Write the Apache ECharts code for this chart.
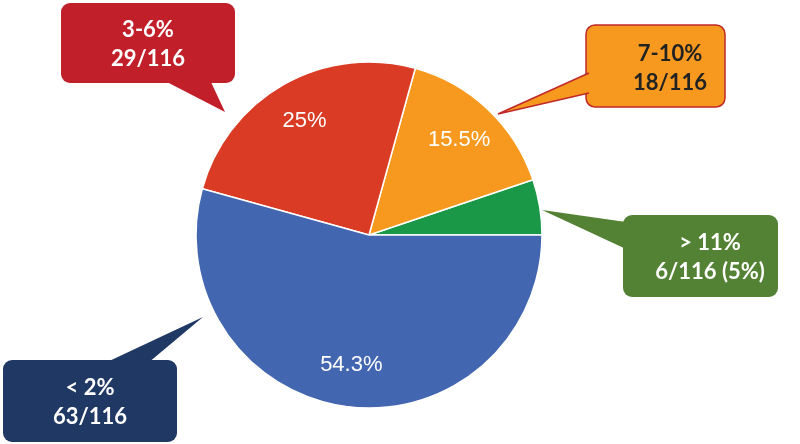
<!DOCTYPE html>
<html><head><meta charset="utf-8">
<script src="https://cdn.jsdelivr.net/npm/echarts@6/dist/echarts.min.js"></script>
<style>html,body{margin:0;padding:0;background:#fff}#c{width:800px;height:444px}</style>
</head><body><div id="c"></div>
<script>
const categories = ['> 11%', '7-10%', '3-6%', '< 2%'];
const counts = [6, 18, 29, 63];
const pctLabels = ['', '15.5%', '25%', '54.3%'];
const sliceColors = ['#1A9848', '#F7991E', '#DA3B25', '#4366B1'];
const total = counts.reduce((a, b) => a + b, 0);

const chart = echarts.init(document.getElementById('c'));
const cx = 369, cy = 235, R = 173;

const pieData = categories.map((c, i) => ({ name: c, value: counts[i], itemStyle: { color: sliceColors[i] } }));
const labelData = categories.map((c, i) => ({ name: c, value: counts[i], label: { show: pctLabels[i] !== '' } }));

function callout(o) {
  const els = [];
  els.push({ type: 'rect', shape: { x: o.x, y: o.y, width: o.w, height: o.h, r: 9 },
    style: { fill: o.fill, stroke: o.stroke || null, lineWidth: o.stroke ? 1.5 : 0 }, z: 10 });
  els.push({ type: 'polygon', shape: { points: o.tail }, style: { fill: o.fill }, z: 11 });
  if (o.stroke) {
    els.push({ type: 'polyline', shape: { points: [o.tail[0], o.tail[1], o.tail[2]] },
      style: { stroke: o.stroke, lineWidth: 1.5, fill: null }, z: 12 });
  }
  els.push({ type: 'text', x: o.tx, y: o.ty, z: 13,
    style: { text: o.text, fill: o.color, font: 'bold 22px Lato, "Open Sans", sans-serif',
      align: 'center', verticalAlign: 'middle', lineHeight: 29 } });
  return els;
}

const texts = categories.map((c, i) => c + '\n' + counts[i] + '/' + total);
texts[0] = categories[0] + '\n' + counts[0] + '/' + total + ' (' + Math.round(counts[0] / total * 100) + '%)';

const graphics = [].concat(
  callout({ x: 61, y: 3, w: 174, h: 80, fill: '#C1202A', color: '#fff', text: texts[2], tx: 148, ty: 44,
    tail: [[163, 80], [225, 112], [210, 80]] }),
  callout({ x: 586, y: 25, w: 139, h: 82, fill: '#F7991E', stroke: '#C0282A', color: '#222', text: texts[1], tx: 670, ty: 68,
    tail: [[589, 73], [498, 114], [589, 93]] }),
  callout({ x: 623, y: 215, w: 155, h: 82, fill: '#548235', color: '#fff', text: texts[0], tx: 710, ty: 257,
    tail: [[626, 222], [542, 210], [626, 249]] }),
  callout({ x: 3, y: 360, w: 174, h: 82, fill: '#203864', color: '#fff', text: texts[3], tx: 90, ty: 402,
    tail: [[105, 363], [203, 317], [148, 363]] })
);

chart.setOption({
  animation: false,
  series: [
    { type: 'pie', center: [cx, cy], radius: [0, R], startAngle: 0, clockwise: false,
      label: { show: false }, labelLine: { show: false }, silent: true,
      itemStyle: { borderColor: '#fff', borderWidth: 1.5 }, data: pieData },
    { type: 'pie', center: [cx, cy], radius: [83, R], startAngle: 0, clockwise: false, silent: true,
      itemStyle: { color: 'rgba(0,0,0,0)' }, labelLine: { show: false },
      label: { show: true, position: 'inside', color: '#fff', fontSize: 22,
        fontFamily: '"Liberation Sans", Arial, sans-serif',
        formatter: p => pctLabels[p.dataIndex] },
      data: labelData }
  ],
  graphic: graphics
});
</script></body></html>
